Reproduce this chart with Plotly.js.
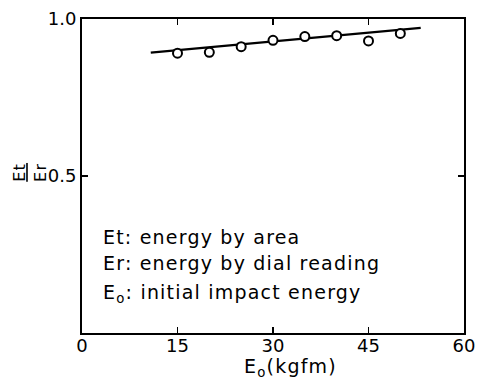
<!DOCTYPE html>
<html><head><meta charset="utf-8">
<script src="https://cdn.plot.ly/plotly-3.0.1.min.js"></script>
<style>html,body{margin:0;padding:0;background:#fff}#c{width:478px;height:383px}
.annotation-text{letter-spacing:1.2px}</style>
</head><body><div id="c"></div>
<script>
const energyE0 = [15, 20, 25, 30, 35, 40, 45, 50];
const ratioEtEr = [0.891, 0.894, 0.912, 0.932, 0.944, 0.947, 0.930, 0.954];
const fitX = [10.8, 53.2];
const fitY = [0.893, 0.972];
const xTicks = [0, 15, 30, 45, 60];
const yTicks = [0.5, 1.0];
const yTickText = ['0.5', '1.0'];
const notes = ['Et: energy by area', 'Er: energy by dial reading', 'E<sub>o</sub>: initial impact energy'];
const xTitle = 'E<sub>o</sub>(kgfm)';
const yTitle = '<u>Et</u><br>Er';

const font = 'DejaVu Sans, sans-serif';
const data = [
  {x: fitX, y: fitY, mode: 'lines', line: {color: '#000', width: 2.2}, showlegend: false, hoverinfo: 'skip'},
  {x: energyE0, y: ratioEtEr, mode: 'markers', showlegend: false,
   marker: {symbol: 'circle', size: 9, color: '#fff', line: {color: '#000', width: 2}}}
];
const noteY = [0.306, 0.223, 0.127];
const annotations = notes.map((t, i) => ({
  text: t, xref: 'paper', yref: 'paper', x: 0.05, y: noteY[i], xanchor: 'left', yanchor: 'middle',
  showarrow: false, font: {family: font, size: 19, color: '#000'}
}));
annotations.push({
  text: yTitle, xref: 'paper', yref: 'paper', x: -0.136, y: 0.51, xanchor: 'center', yanchor: 'middle',
  textangle: -90, showarrow: false, font: {family: font, size: 16, color: '#000'}
});
annotations.push({
  text: xTitle, xref: 'x', yref: 'paper', x: 32.7, y: -0.111, xanchor: 'center', yanchor: 'middle',
  showarrow: false, font: {family: font, size: 19, color: '#000'}
});
const layout = {
  width: 478, height: 383,
  margin: {l: 82, r: 14, t: 19, b: 50},
  paper_bgcolor: '#fff', plot_bgcolor: '#fff',
  font: {family: font, color: '#000'},
  xaxis: {range: [0, 60], tickvals: xTicks, ticks: 'inside', ticklen: 6, tickwidth: 1.5, tickcolor: '#000',
    showline: true, linecolor: '#000', linewidth: 2, mirror: 'ticks', showgrid: false, zeroline: false,
    tickfont: {size: 18, family: font}, ticklabelstandoff: -5},
  yaxis: {range: [0, 1], tickvals: yTicks, ticktext: yTickText, ticks: 'inside', ticklen: 6, tickwidth: 1.5, tickcolor: '#000',
    showline: true, linecolor: '#000', linewidth: 2, mirror: 'ticks', showgrid: false, zeroline: false,
    tickfont: {size: 18, family: font}, ticklabelstandoff: 0},
  annotations: annotations
};
Plotly.newPlot('c', data, layout, {displayModeBar: false, staticPlot: true});
</script></body></html>
